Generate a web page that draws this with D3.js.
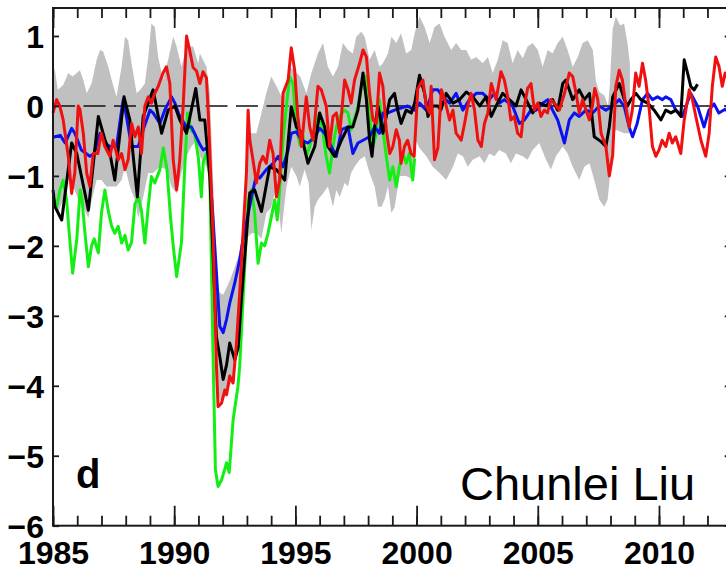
<!DOCTYPE html>
<html>
<head>
<meta charset="utf-8">
<script src="https://cdn.jsdelivr.net/npm/d3@7"></script>
<style>
  body { margin: 0; background: #fff; }
  svg { display: block; font-family: "Liberation Sans", Arial, Helvetica, sans-serif; }
</style>
</head>
<body>
<div id="chart"></div>
<script>
// ---- data (year, anomaly) ----
var majorYears = [1985, 1990, 1995, 2000, 2005, 2010];
var yTicks = [-6, -5, -4, -3, -2, -1, 0, 1];

// ensemble spread (grey band)
var bandUpper = [[1985.0,0.56],[1985.08,0.51],[1985.2,0.23],[1985.42,0.3],[1985.63,0.47],[1985.8,0.42],[1985.98,0.47],[1986.11,0.51],[1986.25,0.37],[1986.39,0.18],[1986.59,0.32],[1986.8,0.66],[1986.94,0.8],[1987.07,0.78],[1987.28,0.56],[1987.42,0.37],[1987.62,0.13],[1987.83,0.56],[1987.97,0.99],[1988.1,0.94],[1988.24,0.61],[1988.45,0.18],[1988.6,0.23],[1988.79,0.32],[1988.93,0.7],[1989.06,1.18],[1989.2,1.13],[1989.34,0.7],[1989.54,0.37],[1989.75,0.66],[1989.96,0.99],[1990.1,0.85],[1990.3,0.56],[1990.44,0.75],[1990.58,0.85],[1990.78,0.85],[1990.99,0.61],[1991.06,0.75],[1991.33,0.56],[1991.47,0.18],[1991.6,-1.0],[1991.75,-2.6],[1991.88,-2.67],[1992.02,-2.7],[1992.16,-2.6],[1992.3,-2.49],[1992.5,-2.3],[1992.7,-2.1],[1992.84,-1.7],[1992.98,-0.9],[1993.05,-0.39],[1993.39,-0.39],[1993.6,-0.1],[1993.8,0.18],[1994.0,0.42],[1994.22,0.28],[1994.49,0.09],[1994.76,0.56],[1994.97,0.5],[1995.2,0.42],[1995.45,0.18],[1995.66,0.47],[1995.93,0.75],[1996.14,0.9],[1996.34,0.56],[1996.55,0.42],[1996.76,0.56],[1996.96,0.9],[1997.17,0.8],[1997.37,0.75],[1997.51,0.99],[1997.72,1.06],[1997.86,0.99],[1998.06,0.66],[1998.27,0.8],[1998.47,0.56],[1998.61,0.61],[1998.82,0.75],[1998.96,0.99],[1999.16,0.9],[1999.36,1.04],[1999.57,0.75],[1999.78,0.8],[1999.92,1.04],[2000.12,1.28],[2000.33,1.13],[2000.54,0.9],[2000.74,1.13],[2000.95,1.18],[2001.15,0.99],[2001.43,0.8],[2001.63,0.9],[2001.84,0.8],[2002.05,0.8],[2002.25,0.66],[2002.46,0.7],[2002.73,0.61],[2002.94,0.7],[2003.14,0.47],[2003.35,0.66],[2003.55,0.94],[2003.76,0.9],[2003.96,0.61],[2004.17,0.8],[2004.38,0.68],[2004.58,0.85],[2004.79,0.9],[2005.0,0.8],[2005.2,0.56],[2005.41,0.8],[2005.61,0.75],[2005.82,0.9],[2006.03,0.99],[2006.23,0.8],[2006.44,0.56],[2006.65,0.7],[2006.85,0.9],[2007.06,0.94],[2007.27,0.8],[2007.4,0.35],[2007.54,0.2],[2007.75,0.15],[2007.9,0.0],[2007.97,0.3],[2008.09,1.1],[2008.22,1.28],[2008.4,1.15],[2008.56,1.18],[2008.7,0.9],[2008.8,0.6]];
var bandLower = [[1985.0,-1.1],[1985.2,-1.53],[1985.42,-1.34],[1985.63,-0.96],[1985.84,-1.15],[1986.04,-1.34],[1986.25,-1.44],[1986.46,-1.6],[1986.6,-1.34],[1986.8,-1.06],[1987.0,-1.06],[1987.21,-1.15],[1987.42,-1.15],[1987.62,-1.15],[1987.83,-1.06],[1987.97,-0.87],[1988.17,-1.15],[1988.38,-1.34],[1988.52,-1.6],[1988.72,-1.3],[1988.93,-0.96],[1989.13,-0.96],[1989.41,-0.87],[1989.68,-0.91],[1989.89,-1.15],[1990.1,-1.25],[1990.3,-0.96],[1990.51,-0.72],[1990.71,-0.58],[1990.92,-0.49],[1991.06,-0.72],[1991.33,-0.87],[1991.47,-1.1],[1991.6,-2.5],[1991.75,-4.0],[1991.88,-4.2],[1992.02,-4.2],[1992.16,-4.1],[1992.43,-3.9],[1992.57,-3.6],[1992.7,-3.25],[1992.84,-2.6],[1992.98,-1.9],[1993.19,-1.82],[1993.39,-1.82],[1993.6,-1.9],[1993.8,-1.53],[1994.0,-1.45],[1994.22,-1.15],[1994.42,-1.82],[1994.63,-1.15],[1994.83,-0.87],[1995.04,-1.0],[1995.18,-1.15],[1995.38,-0.91],[1995.55,-1.1],[1995.66,-1.77],[1995.8,-1.44],[1995.93,-1.34],[1996.14,-1.25],[1996.34,-1.15],[1996.55,-1.44],[1996.69,-1.2],[1996.83,-1.3],[1997.03,-1.1],[1997.17,-1.15],[1997.3,-0.96],[1997.44,-0.87],[1997.65,-0.77],[1997.86,-0.72],[1998.06,-0.96],[1998.27,-1.15],[1998.41,-1.44],[1998.55,-1.44],[1998.68,-1.34],[1998.82,-1.15],[1998.96,-1.53],[1999.09,-1.45],[1999.3,-1.0],[1999.57,-1.0],[1999.84,-1.05],[1999.98,-0.5],[2000.12,-0.6],[2000.4,-0.72],[2000.67,-0.87],[2000.95,-0.96],[2001.22,-1.06],[2001.5,-0.87],[2001.7,-0.68],[2001.91,-0.72],[2002.11,-0.87],[2002.32,-0.77],[2002.6,-0.72],[2002.8,-0.82],[2003.0,-0.68],[2003.21,-0.72],[2003.41,-0.63],[2003.68,-0.68],[2003.89,-0.82],[2004.1,-0.68],[2004.38,-0.72],[2004.58,-0.77],[2004.79,-0.63],[2005.06,-0.53],[2005.34,-0.77],[2005.54,-0.91],[2005.75,-0.72],[2006.03,-0.58],[2006.23,-0.68],[2006.44,-0.87],[2006.71,-1.06],[2006.92,-0.87],[2007.13,-0.82],[2007.33,-1.06],[2007.54,-1.34],[2007.74,-1.44],[2007.88,-1.34],[2007.95,-1.1],[2008.09,-0.49],[2008.22,-0.34],[2008.56,-0.39],[2008.8,-0.39]];

var greenSeries = [[1985.0,-1.3],[1985.15,-1.44],[1985.29,-1.2],[1985.42,-1.06],[1985.56,-1.34],[1985.67,-1.82],[1985.81,-2.39],[1985.98,-1.91],[1986.12,-1.2],[1986.2,-1.35],[1986.32,-1.82],[1986.46,-2.3],[1986.59,-2.0],[1986.7,-1.9],[1986.87,-2.1],[1987.0,-1.53],[1987.14,-1.2],[1987.28,-1.5],[1987.42,-1.72],[1987.55,-1.82],[1987.69,-1.72],[1987.83,-1.96],[1987.97,-1.85],[1988.1,-2.06],[1988.24,-1.95],[1988.38,-1.4],[1988.52,-1.3],[1988.65,-1.5],[1988.79,-1.96],[1988.93,-1.44],[1989.06,-1.01],[1989.2,-1.1],[1989.41,-0.91],[1989.55,-0.6],[1989.7,-0.9],[1989.85,-1.6],[1989.96,-2.0],[1990.1,-2.44],[1990.3,-1.95],[1990.42,-1.0],[1990.55,-0.1],[1990.7,-0.35],[1990.85,-0.4],[1991.0,-0.75],[1991.12,-1.3],[1991.2,-0.8],[1991.33,-0.68],[1991.47,-1.0],[1991.6,-3.5],[1991.7,-5.2],[1991.81,-5.44],[1991.95,-5.35],[1992.08,-5.2],[1992.16,-5.1],[1992.27,-5.24],[1992.43,-4.49],[1992.63,-4.01],[1992.7,-3.73],[1992.84,-2.77],[1992.98,-1.82],[1993.05,-1.34],[1993.19,-1.2],[1993.32,-1.53],[1993.46,-2.25],[1993.6,-1.96],[1993.73,-2.0],[1993.87,-1.82],[1994.0,-1.6],[1994.15,-1.34],[1994.25,-1.63],[1994.35,-1.2],[1994.49,-0.49],[1994.63,0.0],[1994.76,0.42],[1994.9,0.32],[1995.04,-0.3],[1995.18,-0.55],[1995.3,-0.4],[1995.45,-0.72],[1995.59,-0.58],[1995.8,-0.3],[1996.0,-0.1],[1996.14,-0.39],[1996.27,-0.72],[1996.41,-0.96],[1996.55,-0.58],[1996.69,-0.3],[1996.83,-0.15],[1997.03,-0.06],[1997.17,-0.1],[1997.3,-0.34],[1997.51,-0.1],[1997.65,0.09],[1997.79,0.42],[1997.93,0.42],[1998.06,-0.15],[1998.2,-0.58],[1998.34,-0.39],[1998.47,0.09],[1998.61,-0.34],[1998.75,-0.72],[1998.89,-1.06],[1999.02,-0.87],[1999.16,-1.15],[1999.29,-0.87],[1999.43,-0.68],[1999.57,-0.82],[1999.7,-0.68],[1999.84,-1.06],[1999.92,-0.75]];

var blueSeries = [[1985.0,-0.45],[1985.08,-0.44],[1985.3,-0.42],[1985.5,-0.53],[1985.77,-0.32],[1985.9,-0.39],[1986.17,-0.63],[1986.52,-0.72],[1986.7,-0.68],[1986.94,-0.39],[1987.14,-0.53],[1987.35,-0.58],[1987.62,-0.58],[1987.83,-0.06],[1987.9,0.09],[1988.03,-0.15],[1988.24,-0.58],[1988.52,-0.58],[1988.72,-0.34],[1989.0,-0.06],[1989.13,-0.1],[1989.41,-0.25],[1989.61,-0.06],[1989.89,0.13],[1990.03,0.04],[1990.23,-0.15],[1990.51,-0.3],[1990.71,-0.3],[1990.92,-0.45],[1991.06,-0.55],[1991.2,-0.63],[1991.33,-0.6],[1991.43,-0.72],[1991.6,-1.6],[1991.88,-3.15],[1992.02,-3.24],[1992.16,-3.05],[1992.29,-2.82],[1992.5,-2.53],[1992.7,-2.2],[1992.84,-1.91],[1993.19,-1.3],[1993.39,-0.99],[1993.53,-1.03],[1993.8,-0.91],[1994.08,-0.82],[1994.29,-0.72],[1994.49,-0.87],[1994.7,-0.63],[1994.83,-0.39],[1995.04,-0.37],[1995.25,-0.49],[1995.52,-0.53],[1995.8,-0.44],[1996.0,-0.32],[1996.21,-0.39],[1996.48,-0.58],[1996.69,-0.72],[1996.9,-0.34],[1997.17,-0.3],[1997.37,-0.68],[1997.58,-0.53],[1997.79,-0.49],[1998.06,-0.44],[1998.27,-0.3],[1998.47,-0.39],[1998.61,-0.1],[1998.82,-0.1],[1999.09,-0.06],[1999.36,-0.03],[1999.63,0.0],[1999.92,-0.06],[2000.12,0.04],[2000.4,-0.06],[2000.67,0.23],[2000.88,0.23],[2001.08,0.13],[2001.36,0.04],[2001.63,0.18],[2001.91,-0.06],[2002.18,0.09],[2002.46,0.18],[2002.73,0.18],[2003.0,0.09],[2003.21,0.18],[2003.41,0.04],[2003.62,0.09],[2003.96,0.0],[2004.24,-0.25],[2004.45,-0.2],[2004.72,-0.06],[2004.93,-0.06],[2005.2,0.04],[2005.41,0.09],[2005.61,-0.06],[2005.82,-0.2],[2006.1,-0.53],[2006.3,-0.2],[2006.51,-0.1],[2006.71,-0.15],[2006.99,-0.06],[2007.26,-0.1],[2007.54,0.0],[2007.81,-0.06],[2008.09,0.0],[2008.36,0.09],[2008.56,0.0],[2008.77,-0.3],[2008.91,-0.44],[2009.1,-0.25],[2009.32,0.09],[2009.53,0.18],[2009.73,0.09],[2009.94,0.13],[2010.14,0.09],[2010.28,0.13],[2010.49,0.09],[2010.69,-0.06],[2010.97,-0.15],[2011.1,-0.02],[2011.31,0.18],[2011.59,0.0],[2011.86,-0.3],[2012.06,-0.06],[2012.27,0.03],[2012.47,-0.1],[2012.71,-0.05],[2012.9,-0.08]];

var blackSeries = [[1985.0,-1.2],[1985.08,-1.44],[1985.36,-1.63],[1985.77,-0.53],[1985.98,-0.68],[1986.46,-1.49],[1986.87,-0.15],[1987.14,-0.48],[1987.35,-0.68],[1987.55,-1.06],[1987.93,0.13],[1988.17,-0.2],[1988.31,-0.72],[1988.48,-1.3],[1988.72,-0.15],[1989.13,0.23],[1989.48,-0.39],[1989.75,-0.06],[1990.03,0.0],[1990.23,-0.2],[1990.51,-0.39],[1990.89,0.25],[1991.06,-0.2],[1991.26,-0.2],[1991.47,-1.0],[1991.74,-3.3],[1991.88,-3.58],[1992.02,-3.91],[1992.16,-3.7],[1992.29,-3.39],[1992.5,-3.63],[1992.64,-3.45],[1992.77,-2.77],[1993.12,-1.24],[1993.32,-1.2],[1993.6,-1.51],[1993.94,-0.87],[1994.22,-0.91],[1994.56,-1.06],[1994.83,-0.01],[1995.04,-0.3],[1995.2,-0.36],[1995.52,-0.82],[1995.8,-0.58],[1996.0,-0.1],[1996.21,-0.3],[1996.34,-0.58],[1996.62,-0.72],[1996.9,-0.49],[1997.17,-0.3],[1997.37,-0.3],[1997.58,-0.06],[1997.79,0.47],[1997.93,0.09],[1998.06,-0.49],[1998.16,-0.72],[1998.27,-0.3],[1998.41,0.0],[1998.61,-0.39],[1998.75,-0.15],[1998.89,0.09],[1999.09,0.18],[1999.22,-0.06],[1999.36,-0.25],[1999.57,-0.06],[1999.78,-0.1],[1999.92,0.04],[2000.12,0.44],[2000.33,0.18],[2000.47,-0.15],[2000.67,0.0],[2000.88,0.0],[2001.0,-0.06],[2001.22,0.18],[2001.5,0.04],[2001.77,0.09],[2002.05,0.2],[2002.32,0.13],[2002.6,0.0],[2002.87,0.13],[2003.08,-0.15],[2003.28,0.0],[2003.55,0.18],[2003.83,0.09],[2004.1,0.0],[2004.31,0.23],[2004.52,0.09],[2004.79,-0.1],[2005.06,0.04],[2005.34,0.0],[2005.61,0.09],[2005.82,-0.06],[2006.03,0.32],[2006.16,0.37],[2006.3,0.23],[2006.44,0.09],[2006.71,0.23],[2006.92,0.09],[2007.13,0.18],[2007.33,-0.44],[2007.61,-0.51],[2007.81,-0.58],[2007.95,-0.3],[2008.09,0.13],[2008.36,0.32],[2008.57,0.09],[2008.7,0.0],[2008.84,0.09],[2009.05,0.18],[2009.25,0.09],[2009.53,0.04],[2009.8,-0.06],[2010.08,-0.2],[2010.28,-0.06],[2010.49,-0.1],[2010.7,-0.06],[2010.9,-0.15],[2011.04,0.66],[2011.18,0.47],[2011.31,0.28],[2011.45,0.23],[2011.59,0.31]];

var redSeries = [[1985.0,-0.1],[1985.15,0.09],[1985.28,0.0],[1985.42,-0.2],[1985.63,-0.72],[1985.77,-1.25],[1985.9,-0.96],[1986.04,0.0],[1986.11,-0.05],[1986.25,-0.39],[1986.39,-0.96],[1986.52,-1.15],[1986.66,-0.68],[1986.85,-0.68],[1986.99,-0.39],[1987.14,-0.58],[1987.35,-0.72],[1987.48,-0.49],[1987.69,-0.77],[1987.83,-0.68],[1987.97,-0.91],[1988.1,-0.77],[1988.24,-0.25],[1988.38,-0.44],[1988.52,-0.3],[1988.65,-0.68],[1988.79,0.0],[1988.93,0.13],[1989.06,0.04],[1989.2,0.18],[1989.34,0.28],[1989.54,0.47],[1989.68,0.56],[1989.82,0.32],[1989.96,-0.77],[1990.1,-1.2],[1990.23,-0.77],[1990.37,0.0],[1990.51,1.0],[1990.64,0.79],[1990.78,0.55],[1990.92,0.5],[1991.06,0.32],[1991.19,0.49],[1991.33,0.4],[1991.4,-0.06],[1991.6,-1.8],[1991.74,-3.7],[1991.81,-4.3],[1991.95,-4.25],[1992.09,-4.06],[1992.16,-4.13],[1992.29,-3.86],[1992.43,-3.96],[1992.57,-3.39],[1992.7,-2.68],[1992.84,-1.82],[1992.98,-0.96],[1993.05,-0.06],[1993.12,-0.49],[1993.25,-0.77],[1993.39,-1.1],[1993.53,-0.82],[1993.66,-0.72],[1993.8,-0.82],[1993.94,-0.49],[1994.08,-0.68],[1994.22,-1.3],[1994.35,-1.06],[1994.49,0.18],[1994.7,0.37],[1994.83,0.83],[1994.97,0.51],[1995.1,-0.15],[1995.25,-0.58],[1995.45,0.13],[1995.59,-0.3],[1995.73,-0.49],[1995.93,0.28],[1996.07,0.23],[1996.27,0.0],[1996.41,-0.58],[1996.55,-0.15],[1996.69,-0.1],[1996.83,-0.39],[1997.03,0.37],[1997.17,0.23],[1997.3,0.04],[1997.44,0.37],[1997.65,0.61],[1997.79,0.8],[1997.93,0.7],[1998.06,0.18],[1998.2,-0.2],[1998.34,-0.25],[1998.47,0.47],[1998.61,0.28],[1998.75,-0.34],[1998.89,-0.68],[1999.02,-0.58],[1999.16,-0.34],[1999.29,-0.49],[1999.36,-0.82],[1999.5,-0.58],[1999.63,-0.49],[1999.77,-0.68],[1999.9,-0.72],[2000.05,0.25],[2000.26,0.37],[2000.4,0.0],[2000.54,-0.1],[2000.6,0.28],[2000.74,-0.77],[2000.88,-0.6],[2001.02,0.23],[2001.16,0.09],[2001.36,-0.2],[2001.5,-0.06],[2001.63,-0.39],[2001.84,-0.49],[2001.98,-0.25],[2002.11,0.0],[2002.25,0.18],[2002.39,-0.06],[2002.53,-0.49],[2002.67,-0.58],[2002.8,-0.25],[2002.94,-0.1],[2003.08,0.32],[2003.28,0.09],[2003.48,0.49],[2003.62,0.37],[2003.76,0.13],[2003.89,-0.2],[2004.03,-0.15],[2004.17,-0.39],[2004.31,-0.44],[2004.45,0.0],[2004.58,0.25],[2004.72,0.32],[2004.86,-0.06],[2005.0,0.04],[2005.13,-0.15],[2005.27,-0.06],[2005.4,-0.1],[2005.54,0.09],[2005.68,0.04],[2005.89,-0.06],[2006.1,0.18],[2006.3,0.47],[2006.44,0.42],[2006.58,0.18],[2006.71,-0.1],[2006.85,0.09],[2006.99,-0.06],[2007.13,-0.2],[2007.25,0.0],[2007.35,0.25],[2007.47,0.1],[2007.61,-0.39],[2007.81,-0.58],[2007.95,-1.0],[2008.09,-0.7],[2008.22,0.28],[2008.36,0.51],[2008.49,0.37],[2008.63,0.0],[2008.77,-0.3],[2008.9,-0.06],[2009.04,0.47],[2009.18,0.28],[2009.32,0.61],[2009.45,0.37],[2009.6,-0.06],[2009.73,-0.58],[2009.87,-0.72],[2010.0,-0.63],[2010.13,-0.49],[2010.28,-0.58],[2010.42,-0.39],[2010.55,-0.53],[2010.69,-0.44],[2010.9,-0.68],[2011.04,-0.2],[2011.25,0.23],[2011.38,0.09],[2011.52,-0.15],[2011.73,-0.49],[2011.93,-0.72],[2012.07,-0.39],[2012.2,0.28],[2012.34,0.7],[2012.48,0.56],[2012.61,0.28],[2012.73,0.47],[2012.9,0.35]];

// ---- layout ----
var width = 726, height = 570;
var margin = {top: 8, left: 53, bottom: 44.3};
var plotRight = 731.7; // 2013 sits just past the window edge

var svg = d3.select('#chart').append('svg')
  .attr('width', width)
  .attr('height', height);

var x = d3.scaleLinear().domain([1985, 2013]).range([margin.left, plotRight]);
var y = d3.scaleLinear().domain([-6, 1.4]).range([height - margin.bottom, margin.top]);

var line = d3.line()
  .x(function(d) { return x(d[0]); })
  .y(function(d) { return y(d[1]); });

// grey spread: upper edge forward, lower edge back
svg.append('path')
  .attr('d', line(bandUpper.concat(bandLower.slice().reverse())) + 'Z')
  .attr('fill', '#c0c0c0')
  .attr('stroke', 'none');

// zero line
svg.append('line')
  .attr('x1', x(1985)).attr('x2', plotRight)
  .attr('y1', y(0)).attr('y2', y(0))
  .attr('stroke', '#111')
  .attr('stroke-width', 1.6)
  .attr('stroke-dasharray', '22,8.5');

// series lines
var seriesList = [
  {data: greenSeries, color: '#14ee14'},
  {data: blueSeries, color: '#0a12f0'},
  {data: blackSeries, color: '#000000'},
  {data: redSeries, color: '#f01010'}
];
seriesList.forEach(function(s) {
  svg.append('path')
    .attr('d', line(s.data))
    .attr('fill', 'none')
    .attr('stroke', s.color)
    .attr('stroke-width', 3)
    .attr('stroke-linejoin', 'round');
});

// ---- axes ----
var axisColor = '#1a1a1a';
var minorYears = d3.range(1985, 2014);

function styleAxis(g) {
  g.select('.domain').remove();
  g.selectAll('line').attr('stroke', axisColor).attr('stroke-width', 1.8);
  g.selectAll('text')
    .attr('fill', '#000')
    .style('font-size', '32px')
    .style('font-weight', 'bold')
    .style('font-family', '"Liberation Sans", Arial, Helvetica, sans-serif');
}

// bottom: minor + major ticks pointing inward, labels below
svg.append('g')
  .attr('transform', 'translate(0,' + y(-6) + ')')
  .call(d3.axisBottom(x).tickValues(minorYears).tickSize(-10).tickFormat(''))
  .call(styleAxis);
svg.append('g')
  .attr('transform', 'translate(0,' + y(-6) + ')')
  .call(d3.axisBottom(x).tickValues(majorYears).tickSize(-20).tickPadding(16).tickFormat(d3.format('d')))
  .call(styleAxis);

// top ticks
svg.append('g')
  .attr('transform', 'translate(0,' + y(1.4) + ')')
  .call(d3.axisTop(x).tickValues(minorYears).tickSize(-10).tickFormat(''))
  .call(styleAxis);
svg.append('g')
  .attr('transform', 'translate(0,' + y(1.4) + ')')
  .call(d3.axisTop(x).tickValues(majorYears).tickSize(-20).tickFormat(''))
  .call(styleAxis);

// left ticks and labels
svg.append('g')
  .attr('transform', 'translate(' + x(1985) + ',0)')
  .call(d3.axisLeft(y).tickValues(yTicks).tickSize(-6).tickPadding(9).tickFormat(d3.format('d')))
  .call(styleAxis)
  .selectAll('text').attr('dy', '0.36em');

// right ticks
svg.append('g')
  .attr('transform', 'translate(' + plotRight + ',0)')
  .call(d3.axisRight(y).tickValues(yTicks).tickSize(-7).tickFormat(''))
  .call(styleAxis);

// frame
svg.append('rect')
  .attr('x', x(1985)).attr('y', y(1.4))
  .attr('width', plotRight - x(1985))
  .attr('height', y(-6) - y(1.4))
  .attr('fill', 'none')
  .attr('stroke', axisColor)
  .attr('stroke-width', 2);

// panel letter and credit
svg.append('text')
  .attr('x', 76).attr('y', 488)
  .style('font-size', '40px')
  .style('font-weight', 'bold')
  .text('d');

svg.append('text')
  .attr('x', 460).attr('y', 500)
  .style('font-size', '47px')
  .text('Chunlei Liu');
</script>
</body>
</html>
